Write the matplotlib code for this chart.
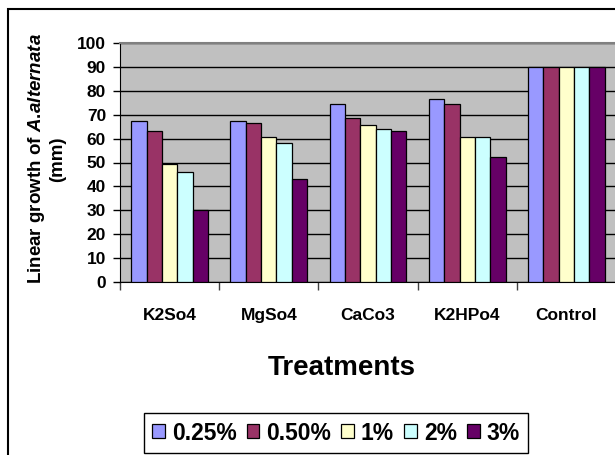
import matplotlib
matplotlib.use('Agg')
import matplotlib.pyplot as plt
import numpy as np
from matplotlib.patches import Rectangle

plt.rcParams['font.family'] = ['Liberation Sans', 'DejaVu Sans']
plt.rcParams['font.weight'] = 'bold'
plt.rcParams['mathtext.fontset'] = 'custom'
plt.rcParams['mathtext.it'] = 'Liberation Sans:italic:bold'
plt.rcParams['mathtext.rm'] = 'Liberation Sans:bold'

treatments = ['K2So4', 'MgSo4', 'CaCo3', 'K2HPo4', 'Control']
concentrations = ['0.25%', '0.50%', '1%', '2%', '3%']
growth_025 = [67.5, 67.5, 74.5, 76.5, 90]
growth_050 = [63, 66.5, 68.5, 74.5, 90]
growth_1 = [49.5, 60.5, 65.5, 60.5, 90]
growth_2 = [46, 58, 64, 60.5, 90]
growth_3 = [30, 43, 63, 52.5, 90]
series = [growth_025, growth_050, growth_1, growth_2, growth_3]
colors = ['#9999FF', '#993366', '#FFFFCC', '#CCFFFF', '#660066']

W, H = 615, 455
fig = plt.figure(figsize=(W / 100, H / 100), dpi=100)
fig.patches.append(Rectangle((8 / W, -0.1), 1.2, (H - 9) / H + 0.1,
                             transform=fig.transFigure, fill=False,
                             edgecolor='black', lw=1.5))

ax = fig.add_axes([120 / W, 173 / H, 496 / W, 239 / H])
ax.set_facecolor('#C0C0C0')

x = np.arange(len(treatments))
width = 0.155
for i, (vals, name, c) in enumerate(zip(series, concentrations, colors)):
    ax.bar(x + (i - 2) * width, vals, width, color=c, edgecolor='black',
           lw=0.9, label=name, zorder=3)

ax.set_xlim(-0.5, len(treatments) - 0.5)
ax.set_ylim(0, 100)
ax.set_yticks(np.arange(0, 101, 10))
ax.yaxis.grid(True, color='black', lw=1)
ax.set_axisbelow(True)

ax.set_xticks(x)
ax.set_xticklabels(treatments, fontsize=12.5, fontweight='bold')
ax.set_xticks(np.arange(-0.5, len(treatments), 1), minor=True)
ax.tick_params(axis='x', which='major', length=0, pad=19)
ax.tick_params(axis='x', which='minor', length=5.5, width=1, color='#404040')
ax.tick_params(axis='y', length=5, width=1, pad=5, labelsize=12.5)
for lbl in ax.get_yticklabels():
    lbl.set_fontweight('bold')

ax.spines['left'].set_color('black')
ax.spines['bottom'].set_color('black')
ax.spines['top'].set_color('#808080')
ax.spines['top'].set_linewidth(1.5)
ax.spines['right'].set_visible(False)

fig.text(46 / W, 1 - 159 / H, 'Linear growth of $\\mathit{A.\\!alternata}$\n(mm)',
         rotation=90, ha='center', va='center', multialignment='center',
         fontsize=13.5, fontweight='bold', linespacing=1.1)
fig.text(342 / W, 1 - 368 / H, 'Treatments', ha='center', va='center',
         fontsize=20, fontweight='bold')

leg = fig.legend(loc='center', bbox_to_anchor=(336 / W, 1 - 433 / H), ncol=5,
                 fancybox=False, edgecolor='black', framealpha=1,
                 prop={'size': 16.5, 'weight': 'bold'}, handlelength=0.55,
                 handleheight=0.55, handletextpad=0.3, columnspacing=0.45,
                 borderpad=0.35, borderaxespad=0)
leg.get_frame().set_linewidth(1)

fig.savefig('out.png', dpi=100)
